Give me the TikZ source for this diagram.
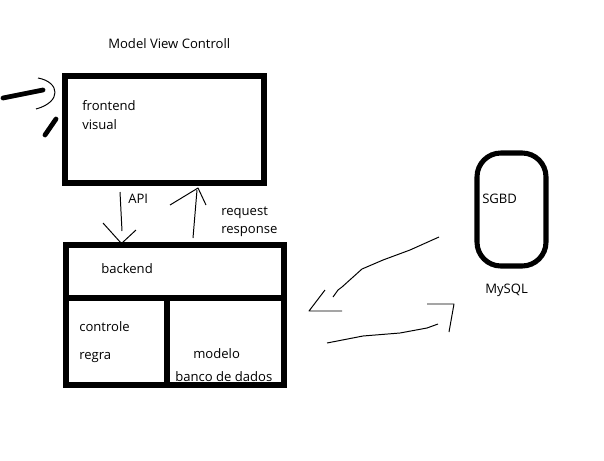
\documentclass[tikz,border=0pt]{standalone}
\usepackage{fontspec}
\setmainfont{Open Sans}
\usetikzlibrary{positioning}
\tikzset{
  paint/.style={line width=3.6pt},
  stroke/.style={line width=0.7pt,line join=round},
  txt/.style={anchor=base west,inner sep=0pt,font=\fontsize{9.3}{11}\selectfont},
}

\begin{document}
\begin{tikzpicture}[x=0.025cm,y=-0.025cm]
  \useasboundingbox[fill=white] (0,0) rectangle (604,460);
  \node[txt] (title) at (108,48) {Model View Controll};

  % frontend
  \draw[paint] (65,76) rectangle (264,183);
  \node[txt] (frontend) at (82,110) {frontend};
  \node[txt] (visual) at (82,129) {visual};
  \draw[line width=3.4pt,line cap=round] (3,98) -- (43,90);
  \draw[line width=3.4pt,line cap=round] (45,135) -- (56,119);
  \draw[stroke] (38,78) .. controls (60,82) and (62,102) .. (36,109);

  % API / request response
  \draw[stroke] (120,192) -- (122,231);
  \draw[stroke] (103,223) -- (121,243) -- (122,243) -- (136,230);
  \node[txt] (api) at (128,203) {API};
  \draw[stroke] (193,238) -- (197,190);
  \draw[stroke] (170,205) -- (198,188) -- (206,205);
  \node[txt] (request) at (221,215) {request};
  \node[txt] (response) at (221,233) {response};

  % backend
  \draw[paint] (66,245) rectangle (284,385);
  \draw[paint] (66,298) -- (284,298);
  \draw[paint] (167,298) -- (167,385);
  \node[txt] (backend) at (101,273) {backend};
  \node[txt] (controle) at (79,331) {controle};
  \node[txt] (regra) at (79,359) {regra};
  \node[txt] (modelo) at (193,358) {modelo};
  \node[txt] (banco) at (175,381) {banco de dados};

  % SGBD
  \draw[paint,rounded corners=17] (477,153) rectangle (546,266);
  \node[txt] (sgbd) at (482,203) {SGBD};
  \node[txt] (mysql) at (485,293) {MySQL};

  % hand drawn arrows
  \draw[stroke] (439,237) -- (410,250) -- (383,260) -- (362,269) -- (342,287) -- (338,290) -- (333,297);
  \draw[stroke] (325,290) -- (309,311) -- (342,311);
  \draw[stroke] (327,343) -- (363,336) -- (400,333) -- (427,328) -- (438,324);
  \draw[stroke] (427,304) -- (454,304) -- (449,332);
\end{tikzpicture}
\end{document}
